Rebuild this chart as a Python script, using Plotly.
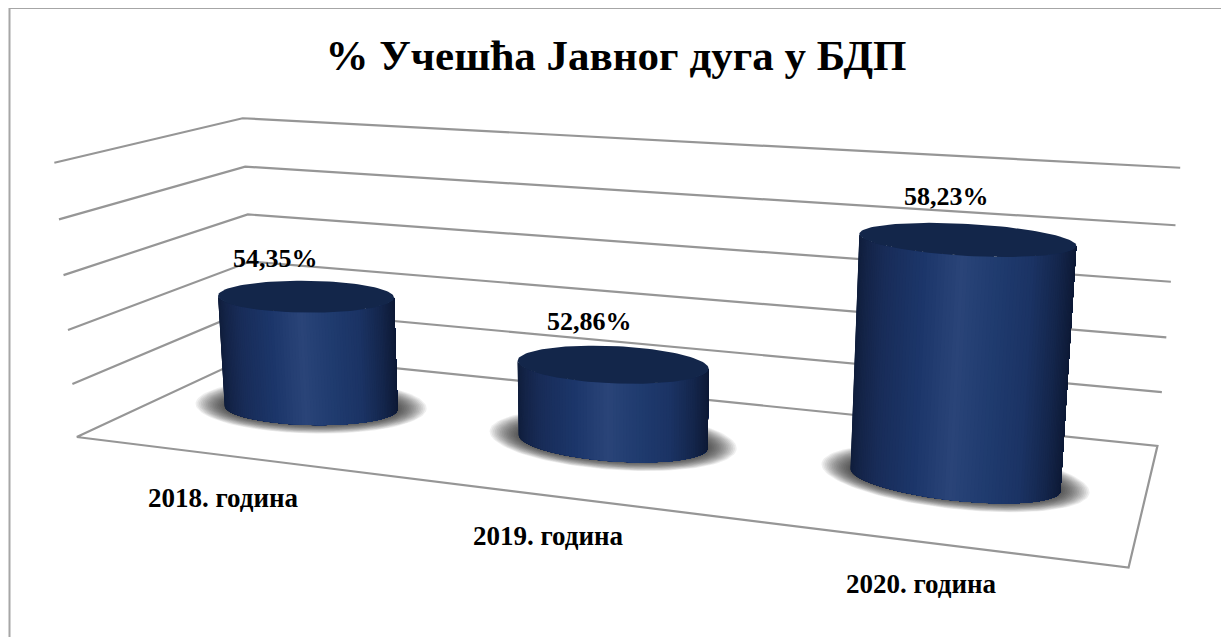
import numpy as np
import plotly.graph_objects as go

categories = ["2018. година", "2019. година", "2020. година"]
values = [54.35, 52.86, 58.23]
value_labels = ["54,35%", "52,86%", "58,23%"]
title = "% Учешћа Јавног дуга у БДП"
z_ticks = [50, 52, 54, 56, 58, 60]

W, H = 1221, 637
FONT = "Liberation Serif"
GRID = "#969696"

# ---- perspective of the 3-D plot box: category position (0..3), depth (0..1), value
CALIB = [((0,0,50),(77,435)),((3,0,50),(1128,568)),((3,1,50),(1157,444)),((0,1,50),(255,355)),
         ((0,0,60),(54,163)),((3,1,60),(1180,167)),((0,1,60),(243,118)),
         ((.5,.5,50),(311,407)),((1.5,.5,50),(613,443)),((2.5,.5,50),(957,481)),
         ((.5,.5,54.35),(306,297)),((1.5,.5,52.86),(613,364)),((2.5,.5,58.23),(968,241))]
A, b = [], []
for (X, Y, Z), (u, v) in CALIB:
    Z = (Z-50)/10
    A.append([X,Y,Z,1,0,0,0,0,-u*X,-u*Y,-u*Z]); b.append(u)
    A.append([0,0,0,0,X,Y,Z,1,-v*X,-v*Y,-v*Z]); b.append(v)
P = np.append(np.linalg.lstsq(np.array(A,float),np.array(b,float),rcond=None)[0],1).reshape(3,4)

def project(x, y, z):
    x, y, z = np.broadcast_arrays(np.asarray(x,float),np.asarray(y,float),(np.asarray(z,float)-50)/10)
    q = P@np.stack([x,y,z,np.ones_like(x)])
    return q[0]/q[2], q[1]/q[2]

fig = go.Figure()

def line(xs, ys, zs):
    px, py = project(xs, ys, zs)
    fig.add_trace(go.Scatter(x=px,y=py,mode="lines",line=dict(color=GRID,width=2.2),hoverinfo="skip"))

for z in z_ticks:
    if z == z_ticks[0]:
        line([0,0,3,3,0],[0,1,1,0,0],[z]*5)
    else:
        line([0,0,3],[0,1,1],[z]*3)

# ellipse outline of each cylinder end on screen: half width, half height, chord slope
END_BASE = [(86.5,17.5,.02),(94.5,20,.069),(105,21,.105)]
END_TOP = [(88,16,.011),(95.5,18.6,.042),(108.5,16,.055)]
SHADE_U = [0, .04, .12, .30, .47, .62, .80, .92, 1]
SHADE_C = np.array([[16,30,60],[20,36,72],[24,44,88],[28,54,106],[42,68,120],[32,60,112],[27,51,100],[20,38,76],[14,26,54]],float)

def rgb(c):
    return "rgb(%d,%d,%d)"%tuple(np.round(c))

def ellipse(cx, cy, shape, t):
    a, bb, s = shape
    return cx+a*np.cos(t), cy+a*s*np.cos(t)-bb*np.sin(t)

full = np.linspace(0, 2*np.pi, 121)
front = np.linspace(np.pi, 2*np.pi, 91)
for i, v in enumerate(values):
    bc = project(i+.5, .5, 50)
    tc = project(i+.5, .5, v)
    a0, b0, s0 = END_BASE[i]
    n = 20
    for k in range(n):
        t = 1-k/(n-1)
        sx, sy = ellipse(bc[0], bc[1]-1.5*t, (a0-4+33*t, b0-2+12*t, s0), full)
        fig.add_trace(go.Scatter(x=sx,y=sy,mode="lines",fill="toself",fillcolor="rgba(30,30,30,0.07)",
                                 line=dict(width=0),hoverinfo="skip"))
    bx, by = ellipse(bc[0], bc[1], END_BASE[i], front)
    tx, ty = ellipse(tc[0], tc[1], END_TOP[i], front)
    for j in range(len(front)-1):
        u = ((bx[j]+bx[j+1])/2-bx[0])/(bx[-1]-bx[0])
        col = rgb([np.interp(u,SHADE_U,SHADE_C[:,m]) for m in range(3)])
        fig.add_trace(go.Scatter(x=np.r_[bx[j:],tx[j:][::-1],bx[j]],y=np.r_[by[j:],ty[j:][::-1],by[j]],mode="lines",
                                 fill="toself",fillcolor=col,line=dict(width=0),hoverinfo="skip"))
    cx_, cy_ = ellipse(tc[0], tc[1], END_TOP[i], full)
    fig.add_trace(go.Scatter(x=cx_,y=cy_,mode="lines",fill="toself",fillcolor="#13264a",line=dict(width=0),hoverinfo="skip"))

LABEL_SHIFT = [(-31,-38),(-24,-43),(-21,-43)]
CAT_SHIFT = [43,40,42]
anns = []
for i, (v, l, c) in enumerate(zip(values, value_labels, categories)):
    x0, y0 = project(i+.5, .5, v)
    anns.append(dict(x=float(x0)+LABEL_SHIFT[i][0],y=float(y0)+LABEL_SHIFT[i][1],text=f"<b>{l}</b>",showarrow=False,
                     font=dict(family=FONT,size=26,color="black")))
    x1, y1 = project(i+.5, 0, 50)
    anns.append(dict(x=float(x1),y=float(y1)+CAT_SHIFT[i],text=f"<b>{c}</b>",showarrow=False,
                     font=dict(family=FONT,size=27,color="black")))

fig.update_layout(width=W,height=H,margin=dict(l=0,r=0,t=0,b=0),paper_bgcolor="white",plot_bgcolor="white",showlegend=False,
    title=dict(text=f"<b>{title}</b>",x=616/W,xanchor="center",y=.913,yanchor="middle",font=dict(family=FONT,size=43,color="black")),
    xaxis=dict(range=[0,W],visible=False,fixedrange=True),yaxis=dict(range=[H,0],visible=False,fixedrange=True),
    annotations=anns,
    shapes=[dict(type="line",x0=9.5,x1=9.5,y0=8,y1=H,line=dict(color="#a6a6a6",width=2)),
            dict(type="line",x0=9,x1=W,y0=8.5,y1=8.5,line=dict(color="#a6a6a6",width=1))])
fig.write_html("out.html",post_script="document.body.style.margin='0';",config=dict(displayModeBar=False))
